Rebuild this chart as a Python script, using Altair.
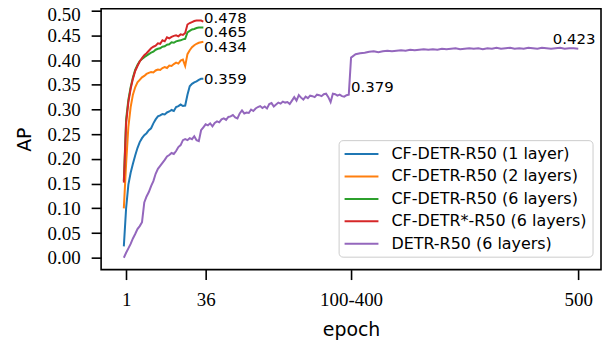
import altair as alt
import pandas as pd

# ---------------- data ----------------
names = [
    "CF-DETR-R50 (1 layer)",
    "CF-DETR-R50 (2 layers)",
    "CF-DETR-R50 (6 layers)",
    "CF-DETR*-R50 (6 layers)",
    "DETR-R50 (6 layers)",
]
colors = ["#1f77b4", "#ff7f0e", "#2ca02c", "#d62728", "#9467bd"]

cf_epoch = list(range(36))
cf_1layer = [0.023, 0.100, 0.148, 0.172, 0.190, 0.207, 0.222, 0.234, 0.242, 0.248,
             0.252, 0.258, 0.262, 0.272, 0.280, 0.286, 0.288, 0.291, 0.290, 0.294,
             0.296, 0.299, 0.297, 0.305, 0.307, 0.310, 0.307, 0.308, 0.330, 0.347,
             0.352, 0.355, 0.357, 0.360, 0.362, 0.362]
cf_2layers = [0.100, 0.190, 0.265, 0.305, 0.330, 0.345, 0.355, 0.360, 0.365, 0.368,
              0.372, 0.374, 0.376, 0.375, 0.379, 0.381, 0.380, 0.384, 0.386, 0.384,
              0.389, 0.388, 0.392, 0.395, 0.393, 0.399, 0.401, 0.388, 0.412, 0.420,
              0.426, 0.430, 0.433, 0.435, 0.436, 0.437]
cf_6layers = [0.155, 0.280, 0.320, 0.345, 0.365, 0.380, 0.390, 0.398, 0.402, 0.406,
              0.409, 0.412, 0.415, 0.417, 0.421, 0.423, 0.424, 0.427, 0.428, 0.431,
              0.432, 0.436, 0.435, 0.438, 0.439, 0.440, 0.442, 0.443, 0.456, 0.459,
              0.462, 0.463, 0.465, 0.466, 0.466, 0.466]
cf_star_6layers = [0.152, 0.272, 0.315, 0.342, 0.362, 0.378, 0.388, 0.397, 0.404, 0.410,
                   0.414, 0.419, 0.424, 0.427, 0.429, 0.434, 0.433, 0.440, 0.438, 0.446,
                   0.444, 0.447, 0.449, 0.450, 0.448, 0.452, 0.451, 0.455, 0.472, 0.475,
                   0.477, 0.479, 0.480, 0.480, 0.480, 0.478]

# DETR: positions 0-100 = epochs 1-100, the break at 100 = 100-400, then 400-500
detr_pos = list(range(0, 101)) + list(range(102, 201, 2))
detr_ap = [
    0.000, 0.010, 0.019, 0.028, 0.039, 0.048, 0.058, 0.064, 0.072, 0.112,
    0.124, 0.133, 0.145, 0.155, 0.170, 0.180, 0.186, 0.192, 0.198, 0.205,
    0.208, 0.212, 0.210, 0.216, 0.224, 0.228, 0.238, 0.240, 0.238, 0.242,
    0.240, 0.246, 0.238, 0.236, 0.258, 0.264, 0.270, 0.268, 0.272, 0.266,
    0.273, 0.276, 0.274, 0.280, 0.282, 0.279, 0.285, 0.286, 0.289, 0.284,
    0.282, 0.292, 0.298, 0.292, 0.294, 0.293, 0.300, 0.297, 0.302, 0.305,
    0.307, 0.303, 0.306, 0.302, 0.311, 0.313, 0.306, 0.310, 0.314, 0.312,
    0.316, 0.314, 0.315, 0.311, 0.318, 0.325, 0.318, 0.329, 0.324, 0.320,
    0.326, 0.323, 0.328, 0.327, 0.325, 0.330, 0.329, 0.327, 0.331, 0.332,
    0.325, 0.315, 0.332, 0.331, 0.328, 0.330, 0.327, 0.326, 0.329, 0.330,
    0.405,
    0.412, 0.414, 0.415, 0.417, 0.418, 0.416, 0.418, 0.419, 0.418, 0.419,
    0.420, 0.419, 0.421, 0.420, 0.421, 0.422, 0.421, 0.422, 0.421, 0.423,
    0.422, 0.423, 0.424, 0.422, 0.423, 0.424, 0.423, 0.424, 0.422, 0.424,
    0.423, 0.425, 0.423, 0.424, 0.425, 0.423, 0.424, 0.423, 0.425, 0.424,
    0.423, 0.425, 0.424, 0.423, 0.424, 0.425, 0.423, 0.424, 0.424, 0.423,
]

# annotations
ann_text = ["0.478", "0.465", "0.434", "0.359", "0.379", "0.423"]
ann_pos = [35.3, 35.3, 35.3, 35.3, 100.0, 188.8]
ann_ap = [0.475, 0.447, 0.416, 0.352, 0.335, 0.432]

tick_vals = [1, 36, 100, 200]
tick_labels = ["1", "36", "100-400", "500"]
y_ticks = [0.00, 0.05, 0.10, 0.15, 0.20, 0.25, 0.30, 0.35, 0.40, 0.45, 0.50]

# ---------------- build table ----------------
rows = []
for name, series in zip(names[:4], [cf_1layer, cf_2layers, cf_6layers, cf_star_6layers]):
    for e, v in zip(cf_epoch, series):
        rows.append({"model": name, "pos": e, "AP": v})
for p, v in zip(detr_pos, detr_ap):
    rows.append({"model": names[4], "pos": p, "AP": v})
df = pd.DataFrame(rows)
df["order"] = df["model"].map({n: i for i, n in enumerate(names)})

ann_df = pd.DataFrame({"text": ann_text, "pos": ann_pos, "AP": ann_ap})

label_expr = " : ".join(
    f"datum.value == {v} ? '{l}'" for v, l in zip(tick_vals, tick_labels)
) + " : ''"

x_scale = alt.Scale(domain=[-10, 210], nice=False, zero=False)
y_scale = alt.Scale(domain=[-0.024, 0.504], nice=False, zero=False)

x_axis = alt.Axis(title="epoch", values=tick_vals, labelExpr=label_expr,
                  titleY=66, titleBaseline="alphabetic", labelOverlap=False)
y_axis = alt.Axis(title="AP", values=y_ticks, format=".2f", tickCount=11,
                  titleX=-71, titleBaseline="alphabetic",
                  labelOverlap=False, labelFlush=5, labelFlushOffset=5)

lines = alt.Chart(df).mark_line(strokeWidth=2).encode(
    x=alt.X("pos:Q", scale=x_scale, axis=x_axis),
    y=alt.Y("AP:Q", scale=y_scale, axis=y_axis),
    color=alt.Color("model:N",
                    scale=alt.Scale(domain=names, range=colors),
                    legend=alt.Legend(title=None, orient="none", legendX=238.5, legendY=132,
                                      symbolType="M-2.125,0H2.125", symbolSize=256,
                                      symbolOffset=9, symbolStrokeWidth=2,
                                      labelFontSize=16, labelLimit=400,
                                      labelFont="DejaVu Sans", labelColor="black",
                                      rowPadding=5.5, padding=5, labelOffset=21,
                                      fillColor="white", strokeColor="#cccccc",
                                      cornerRadius=4)),
    detail="model:N",
    order="order:Q",
)

texts = alt.Chart(ann_df).mark_text(
    align="left", baseline="alphabetic", font="DejaVu Sans", fontSize=15, color="black"
).encode(
    x=alt.X("pos:Q", scale=x_scale, axis=x_axis),
    y=alt.Y("AP:Q", scale=y_scale, axis=y_axis),
    text="text:N",
)

chart = alt.layer(lines, texts).properties(
    width=502, height=262,
    autosize=alt.AutoSizeParams(type="none"),
    padding={"left": 93.5, "top": 0, "right": 2, "bottom": 73},
).configure_view(
    stroke="black", strokeWidth=1.6
).configure_axis(
    grid=False, domain=False, tickColor="black", tickWidth=1.6, tickSize=10,
    labelFont="Liberation Serif", labelFontSize=19, labelColor="black", labelPadding=11,
    titleFont="DejaVu Sans", titleFontSize=19, titleFontWeight="normal", titleColor="black",
)

chart.save("out.html", embed_options={"renderer": "svg", "actions": False})
